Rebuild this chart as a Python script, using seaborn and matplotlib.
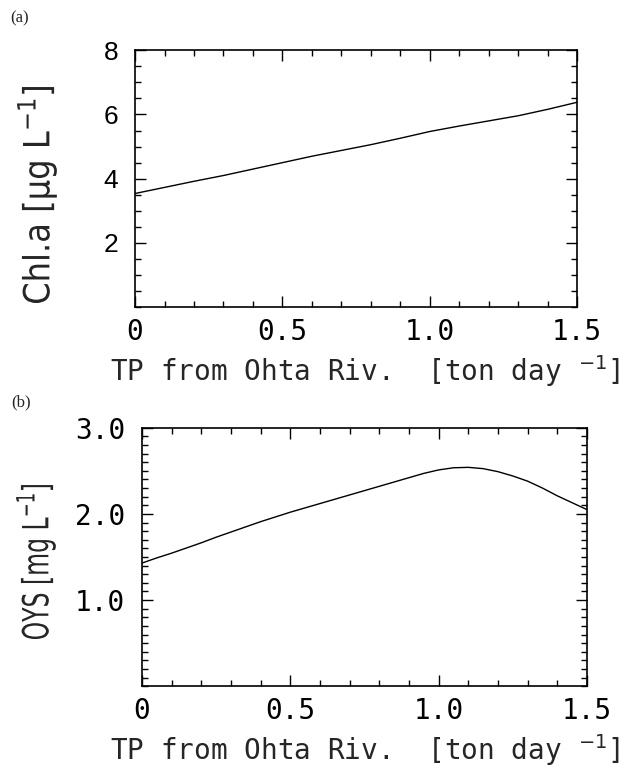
import numpy as np
import pandas as pd
import matplotlib
matplotlib.use("Agg")
import matplotlib.pyplot as plt
from matplotlib.ticker import MultipleLocator, FixedLocator
from matplotlib.patheffects import AbstractPathEffect
from matplotlib.transforms import Affine2D
import seaborn as sns

# ---- data ----
tp_a = [0.0, 0.1, 0.2, 0.3, 0.4, 0.5, 0.6, 0.7, 0.8, 0.9, 1.0, 1.1, 1.2, 1.3, 1.4, 1.5]
chla = [3.54, 3.73, 3.92, 4.10, 4.30, 4.50, 4.70, 4.88, 5.06, 5.26, 5.47, 5.64, 5.80, 5.96, 6.16, 6.38]

tp_b = [0.0, 0.05, 0.1, 0.15, 0.2, 0.25, 0.3, 0.35, 0.4, 0.45, 0.5, 0.55, 0.6, 0.65, 0.7, 0.75,
        0.8, 0.85, 0.9, 0.95, 1.0, 1.05, 1.1, 1.15, 1.2, 1.25, 1.3, 1.35, 1.4, 1.45, 1.5]
oys = [1.43, 1.49, 1.545, 1.605, 1.665, 1.73, 1.79, 1.85, 1.91, 1.965, 2.02, 2.07, 2.12, 2.17,
       2.22, 2.27, 2.32, 2.37, 2.42, 2.47, 2.51, 2.535, 2.54, 2.525, 2.49, 2.44, 2.38, 2.30,
       2.21, 2.13, 2.05]

x_ticks = [0, 0.5, 1.0, 1.5]
x_ticklabels = ["0", "0.5", "1.0", "1.5"]
a_yticks = [2, 4, 6, 8]
a_yticklabels = ["2", "4", "6", "8"]
b_yticks = [1.0, 2.0, 3.0]
b_yticklabels = ["1.0", "2.0", "3.0"]

xlabel = "TP from Ohta Riv.  [ton day $^{-1}$]"
a_ylabel = "Chl.a [μg L$^{-1}$]"
b_ylabel = "OYS [mg L$^{-1}$]"

df_a = pd.DataFrame({"tp": tp_a, "chla": chla})
df_b = pd.DataFrame({"tp": tp_b, "oys": oys})


class Condense(AbstractPathEffect):
    """Draw text narrower along its baseline so that it spans `target_px`."""

    def __init__(self, target_px):
        super().__init__()
        self.target_px = target_px

    def draw_path(self, renderer, gc, tpath, affine, rgbFace=None):
        ext = tpath.get_extents()
        m = affine.get_matrix()
        s = np.hypot(m[0, 0], m[1, 0])
        length = ext.width * s
        sx = self.target_px / length if length > 0 else 1.0
        cx = 0.5 * (ext.x0 + ext.x1)
        squeeze = Affine2D().translate(-cx, 0).scale(sx, 1.0).translate(cx, 0)
        renderer.draw_path(gc, tpath, squeeze + affine, rgbFace)


sns.set_style("ticks")
plt.rcParams["font.family"] = ["DejaVu Sans"]
plt.rcParams["mathtext.fontset"] = "dejavusans"

W, H = 640, 772
fig = plt.figure(figsize=(6.4, 7.72), dpi=100)
axa = fig.add_axes([0.211, 0.602, 0.691, 0.333])
axb = fig.add_axes([0.222, 0.111, 0.695, 0.335])

mono = ["DejaVu Sans Mono", "DejaVu Sans"]

sns.lineplot(data=df_a, x="tp", y="chla", ax=axa, color="black", linewidth=1.0)
sns.lineplot(data=df_b, x="tp", y="oys", ax=axb, color="black", linewidth=1.0)

for ax in (axa, axb):
    ax.set_xlim(0, 1.5)
    ax.xaxis.set_major_locator(FixedLocator(x_ticks))
    ax.xaxis.set_minor_locator(MultipleLocator(0.1))
    ax.set_xticklabels(x_ticklabels, fontfamily=mono, fontsize=20)
    ax.tick_params(which="both", direction="in", top=True, right=True, width=1.0, colors="black")
    ax.tick_params(which="major", length=8)
    ax.tick_params(which="minor", length=4)
    ax.tick_params(axis="x", which="major", pad=8)
    ax.tick_params(axis="y", which="major", pad=12)
    for s in ax.spines.values():
        s.set_linewidth(1.2)
        s.set_color("black")
    ax.set_ylabel("")
    ax.set_xlabel(xlabel, fontfamily=mono, fontsize=20, labelpad=5)

axa.xaxis.label.set_x(0.52)

axa.set_ylim(0, 8)
axa.yaxis.set_major_locator(FixedLocator(a_yticks))
axa.yaxis.set_minor_locator(MultipleLocator(0.5))
axa.set_yticklabels(a_yticklabels, fontfamily=["Liberation Sans", "DejaVu Sans"], fontsize=19)

axb.set_ylim(0, 3)
axb.yaxis.set_major_locator(FixedLocator(b_yticks))
axb.yaxis.set_minor_locator(MultipleLocator(0.1))
axb.set_yticklabels(b_yticklabels, fontfamily=mono, fontsize=20)

# condensed y-axis titles, as in the reference
fig.text(37 / W, 1 - 195 / H, a_ylabel, rotation=90, ha="center", va="center",
         fontsize=26, path_effects=[Condense(216)])
fig.text(36 / W, 1 - 562 / H, b_ylabel, rotation=90, ha="center", va="center",
         fontsize=26, path_effects=[Condense(154)])

fig.text(0.016, 0.976, "(a)", fontfamily=["Liberation Serif"], fontsize=12, va="center", ha="left")
fig.text(0.018, 0.479, "(b)", fontfamily=["Liberation Serif"], fontsize=12, va="center", ha="left")

fig.savefig("out.png", dpi=100, facecolor="white")
